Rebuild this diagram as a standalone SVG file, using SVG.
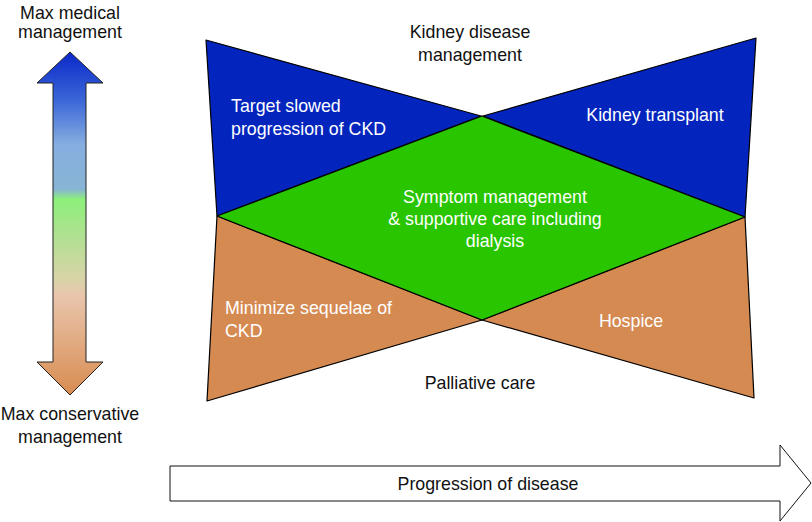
<svg xmlns="http://www.w3.org/2000/svg" width="812" height="522" viewBox="0 0 812 522">
<style>
text{font-family:"Liberation Sans",Arial,sans-serif;font-size:17.8px;}
.dk{fill:#111;}
.wt{fill:#fff;}
.shape{stroke:#000;stroke-width:1.2;stroke-linejoin:round;}
.blue{fill:#0325be;}
.green{fill:#29c600;}
.orange{fill:#d58a52;}
</style>
<defs>
<linearGradient id="vg" x1="0" y1="52" x2="0" y2="395" gradientUnits="userSpaceOnUse">
<stop offset="0" stop-color="#0a28c8"/>
<stop offset="0.14" stop-color="#3a66d8"/>
<stop offset="0.27" stop-color="#86aee0"/>
<stop offset="0.40" stop-color="#88b4d4"/>
<stop offset="0.43" stop-color="#8cf07a"/>
<stop offset="0.54" stop-color="#b2e092"/>
<stop offset="0.66" stop-color="#d8d4a8"/>
<stop offset="0.71" stop-color="#e9c5ad"/>
<stop offset="1" stop-color="#d88c50"/>
</linearGradient>
</defs>
<g id="axis-vertical">
<polygon points="70,52 103,83 86,83 86,362 103,362 70,395 37,362 53,362 53,83 37,83" fill="url(#vg)" stroke="#222" stroke-width="1"/>
<text class="dk" x="70" y="19" text-anchor="middle">Max medical</text>
<text class="dk" x="70" y="38" text-anchor="middle">management</text>
<text class="dk" x="70" y="420" text-anchor="middle">Max conservative</text>
<text class="dk" x="70" y="443" text-anchor="middle">management</text>
</g>
<g id="axis-horizontal">
<polygon points="170,466 780,466 780,445 811,483 780,521 780,501 170,501" fill="#fff" stroke="#111" stroke-width="1"/>
<text class="dk" x="488" y="490" text-anchor="middle">Progression of disease</text>
</g>
<g id="target-slowed">
<polygon class="shape blue" points="206,40 481,116 217,216"/>
<text class="wt" x="231" y="112">Target slowed</text>
<text class="wt" x="231" y="135">progression of CKD</text>
</g>
<g id="kidney-transplant">
<polygon class="shape blue" points="756,38 745,217 483,116"/>
<text class="wt" x="655" y="121" text-anchor="middle">Kidney transplant</text>
</g>
<g id="minimize-sequelae">
<polygon class="shape orange" points="217,216 482,320 207,401"/>
<text class="wt" x="225" y="314">Minimize sequelae of</text>
<text class="wt" x="225" y="337">CKD</text>
</g>
<g id="hospice">
<polygon class="shape orange" points="745,217 754,398 482,320"/>
<text class="wt" x="631" y="327" text-anchor="middle">Hospice</text>
</g>
<g id="symptom-management">
<polygon class="shape green" points="217,216 482,116 745,217 482,320"/>
<text class="wt" x="495" y="203" text-anchor="middle">Symptom management</text>
<text class="wt" x="495" y="225" text-anchor="middle">&amp; supportive care including</text>
<text class="wt" x="495" y="247" text-anchor="middle">dialysis</text>
</g>
<g id="labels">
<text class="dk" x="470" y="38" text-anchor="middle">Kidney disease</text>
<text class="dk" x="470" y="61" text-anchor="middle">management</text>
<text class="dk" x="480" y="389" text-anchor="middle">Palliative care</text>
</g>
<g id="connectors"></g>
</svg>
